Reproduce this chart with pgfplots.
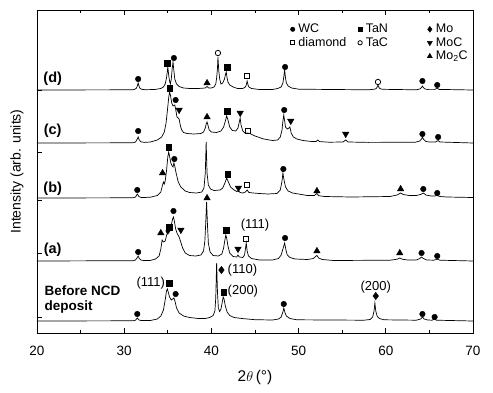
\documentclass[border=0pt]{standalone}
\usepackage{pgfplots}
\pgfplotsset{compat=1.18}
\usepackage{fontspec}
\setmainfont{Liberation Sans}

\pgfplotsset{
  pk/.style={black, line width=0.7pt, no marks, forget plot},
  mWC/.style={only marks, mark=*, mark size=2.8pt, black},
  mTaN/.style={only marks, mark=square*, mark size=2.7pt, black},
  mMo/.style={only marks, mark=diamond*, mark size=3.7pt, black},
  mDia/.style={only marks, mark=square, mark size=2.5pt, black, mark options={line width=0.9pt}},
  mTaC/.style={only marks, mark=o, mark size=2.7pt, black, mark options={line width=0.8pt}},
  mMoC/.style={only marks, mark=triangle*, mark size=3.7pt, black, mark options={rotate=180}},
  mMo2C/.style={only marks, mark=triangle*, mark size=3.7pt, black},
}
\newcommand{\lbl}{\bfseries\fontsize{14.5pt}{16pt}\selectfont}
\newcommand{\hkl}{\fontsize{13pt}{15pt}\selectfont}

\begin{document}
\begin{tikzpicture}[font=\fontsize{13.5pt}{16pt}\selectfont]
\begin{axis}[
  name=ax,
  scale only axis, width=436pt, height=323pt,
  xmin=20, xmax=70, ymin=0, ymax=323,
  xtick={20,30,...,70}, minor xtick={25,35,...,65},
  ytick={16,80,133,181,243}, yticklabels={},
  xtick pos=both, ytick pos=left, tick align=inside,
  major tick length=5pt, minor tick length=3pt,
  tick style={black, line width=0.6pt},
  axis line style={line width=0.8pt},
  /pgf/number format/assume math mode=true,
  x tick label style={yshift=-10pt, font=\fontsize{13.5pt}{16pt}\selectfont},
  xlabel={2$\theta$\,(°)}, ylabel={Intensity (arb. units)},
  every axis x label/.style={at={(axis description cs:0.5,-0.139)}, anchor=center, font=\fontsize{15.5pt}{18pt}\selectfont},
  every axis y label/.style={at={(axis description cs:-0.046,0.5)}, anchor=center, rotate=90, font=\fontsize{14pt}{16pt}\selectfont},
  legend columns=3, legend cell align=left,
  legend image code/.code={\draw[#1,/tikz/every mark/.append style={scale=0.8}] plot coordinates {(0pt,0pt)};},
  legend style={draw=none, fill=none, at={(axis description cs:0.574,0.968)}, anchor=north west,
    font=\fontsize{12.5pt}{14pt}\selectfont, nodes={inner sep=0.5pt, text height=9.5pt, text depth=3pt},
    row sep=0pt, column sep=3pt},
]
% (d)
\addplot[pk] coordinates {
(20,243) (31.0,243.2) (31.2,243.7) (31.4,244.8) (31.5,246.9) (31.6,250) (31.7,246.9) (31.8,244.8) (32.0,243.7) (32.4,243.3)
(33.5,243.5) (34.2,244.5) (34.5,246) (34.7,249) (34.85,255) (34.95,262) (35.0,266) (35.1,258) (35.2,252) (35.3,249)
(35.4,254) (35.5,264) (35.6,271) (35.7,262) (35.8,254) (36.0,249) (36.3,246.5) (36.8,245) (37.5,244.5) (38.5,244.5)
(39.3,245) (39.5,246.5) (39.7,245) (40.0,245) (40.3,246) (40.5,249) (40.6,255) (40.7,265) (40.75,276) (40.85,262)
(40.95,254) (41.1,249) (41.3,250) (41.5,254) (41.6,258) (41.7,261) (41.8,255) (41.9,251) (42.1,248) (42.5,246)
(43.0,244.5) (43.6,244.5) (43.9,246) (44.0,248) (44.1,252) (44.2,248) (44.3,246) (44.6,244.5) (45.5,243.5) (47.0,243.5)
(47.6,244.5) (48.0,246) (48.2,250) (48.3,256) (48.4,263) (48.5,255) (48.6,250) (48.8,247) (49.2,245) (50.0,243.8)
(58.0,243.2) (58.7,243.8) (58.9,244.5) (59.0,245.8) (59.1,248) (59.2,245.8) (59.3,244.5) (59.6,243.7) (63.5,243.2)
(63.9,244) (64.1,245.5) (64.2,247) (64.3,245.5) (64.5,244) (64.9,243.4) (65.6,243.4) (65.9,245) (66.1,243.6) (70,243)
};
% (c)
\addplot[pk] coordinates {
(20,190) (31.0,190.2) (31.3,191) (31.5,194) (31.6,196) (31.7,193.5) (31.9,191.2) (32.3,190.6) (33.0,191) (33.8,193)
(34.3,196) (34.6,201) (34.8,210) (34.95,222) (35.1,235) (35.2,241) (35.3,238) (35.45,230) (35.6,227) (35.8,228)
(35.9,224) (36.05,216) (36.2,215) (36.3,214) (36.45,207) (36.6,203) (36.8,200.5) (37.2,199.5) (38.0,199) (38.8,199.5)
(39.1,201) (39.3,205) (39.4,209) (39.5,211) (39.6,208) (39.75,203) (40.0,201) (40.6,200.5) (41.1,202) (41.4,206)
(41.6,212) (41.75,217) (41.9,213) (42.1,206) (42.4,202.5) (42.8,202) (43.05,205) (43.2,211) (43.3,215) (43.4,208)
(43.6,202) (43.9,199.5) (44.1,200) (44.4,199.5) (45.0,197) (46.0,194) (47.0,192.5) (47.6,193) (47.9,196) (48.1,203)
(48.2,212) (48.3,218) (48.4,212) (48.5,206) (48.7,204) (48.9,205) (49.0,206) (49.15,200) (49.4,196) (49.8,194)
(50.5,192.5) (51.5,191.5) (52.0,191.5) (52.2,193) (52.4,191.4) (53.5,190.8) (55.1,191) (55.4,193) (55.7,191) (58.0,190.6)
(63.4,190.8) (63.9,192) (64.1,194) (64.2,196) (64.35,193.5) (64.6,191.5) (65.0,191) (65.7,191) (66.0,192.5) (66.2,191) (70,190)
};
% (b)
\addplot[pk] coordinates {
(20,135) (31.0,135.2) (31.3,136) (31.5,139) (31.7,136.3) (32.0,135.4) (33.0,135.8) (33.8,137.5) (34.2,141) (34.4,148)
(34.5,151) (34.6,149) (34.7,152) (34.85,162) (35.0,176) (35.1,181) (35.2,177) (35.35,170) (35.5,167) (35.6,166)
(35.7,170) (35.8,167) (35.95,160) (36.2,151) (36.5,146) (37.0,142) (37.5,140.5) (38.3,140) (38.9,141) (39.15,145)
(39.3,160) (39.4,191) (39.5,160) (39.65,148) (39.9,144) (40.3,142.5) (41.0,143) (41.3,145) (41.55,150) (41.75,155)
(41.95,151) (42.2,146) (42.6,143) (42.9,141.5) (43.1,142) (43.3,140.5) (43.6,140) (43.9,141) (44.1,143) (44.3,140.5)
(44.8,140) (45.5,139.5) (46.5,139) (47.5,139.5) (47.9,143) (48.1,152) (48.2,160) (48.35,152) (48.5,146) (48.8,142)
(49.3,140) (50.0,139) (51.0,137.5) (51.8,137.5) (52.1,139.5) (52.3,137.3) (53.0,136.5) (56.0,136) (60.5,136.5) (61.3,138)
(61.7,140) (62.0,138.5) (62.7,137.5) (63.5,137.5) (64.0,138.5) (64.3,140) (64.6,138) (65.2,137) (65.6,137) (65.9,137.5)
(66.2,136.5) (67.0,136) (70,135.5)
};
% (a)
\addplot[pk] coordinates {
(20,72) (31.0,72.3) (31.3,73) (31.5,75.5) (31.6,77) (31.7,75) (31.9,73) (32.3,72.4) (33.0,72.6) (33.6,74)
(34.0,77) (34.2,84) (34.35,93) (34.5,91) (34.7,92) (34.9,99) (35.05,101) (35.2,101) (35.4,108) (35.55,114)
(35.65,116) (35.75,112) (35.9,104) (36.1,99) (36.3,96) (36.45,92) (36.7,85) (37.0,80) (37.5,77.5) (38.2,77)
(38.8,78) (39.1,82) (39.25,92) (39.35,110) (39.45,131) (39.55,108) (39.65,90) (39.85,81) (40.2,77.5) (40.8,77)
(41.2,79) (41.4,85) (41.55,93) (41.65,98) (41.75,95) (41.9,87) (42.1,80) (42.5,76.5) (42.9,76) (43.05,78)
(43.2,76) (43.6,75.5) (43.8,78) (43.9,84) (44.0,90) (44.1,82) (44.25,77) (44.6,74.5) (45.5,73) (47.0,73)
(47.7,74.5) (48.0,78) (48.2,84) (48.4,90) (48.55,83) (48.7,78) (49.0,75.5) (49.6,74) (51.0,73.5) (51.7,74.5)
(52.0,77) (52.1,77.5) (52.3,75) (52.7,73.5) (54.0,72.5) (60.5,72.8) (61.3,73.8) (61.6,75) (61.9,73.8) (62.5,73)
(63.5,73) (63.9,74.5) (64.1,76) (64.3,74.5) (64.7,73) (65.5,72.8) (65.9,73.8) (66.2,72.8) (70,72)
};
% before NCD deposit
\addplot[pk] coordinates {
(20,12) (31.0,12.2) (31.3,12.8) (31.5,15) (31.7,13) (32.0,12.4) (33.0,12.5) (33.8,14) (34.2,17) (34.5,23)
(34.7,33) (34.85,42) (34.95,44) (35.05,41) (35.2,36) (35.4,33) (35.55,34) (35.7,35) (35.85,31) (36.0,25)
(36.3,20) (36.8,17) (37.5,15.5) (38.5,14.5) (39.3,14.5) (39.8,15.5) (40.2,17.5) (40.4,22) (40.5,35) (40.6,70)
(40.7,40) (40.8,25) (40.95,21.5) (41.1,24) (41.25,31) (41.35,36) (41.45,34) (41.6,27) (41.8,21) (42.1,17.5)
(42.6,15.5) (43.5,14.5) (45.0,13.3) (47.0,13) (47.7,14) (48.0,16) (48.2,21) (48.3,25) (48.45,20) (48.6,17)
(49.0,14.5) (49.8,13.2) (57.5,12.8) (58.2,13.5) (58.5,16) (58.65,22) (58.75,30) (58.85,22) (59.0,17) (59.25,14.5)
(59.8,13.2) (63.5,12.8) (64.0,14) (64.2,16) (64.4,14) (64.8,13) (65.3,12.8) (65.6,14) (65.8,12.8) (70,12)
};

\addplot[mWC] coordinates {
(31.6,254) (35.7,275) (48.45,266) (64.2,252) (65.9,248)
(31.6,202) (35.9,233) (48.35,223) (64.2,199) (66.0,196)
(31.5,143) (35.75,174) (48.25,164) (64.3,144) (65.9,140)
(31.6,81) (35.65,122) (48.45,95) (64.1,80) (65.9,77)
(31.5,19) (35.9,39) (48.3,29) (64.2,19) (65.6,16)
};
\addlegendentry{\makebox[56pt][l]{WC}}
\addplot[mTaN] coordinates {
(34.95,270) (41.8,266) (35.25,245) (41.8,222) (35.1,186) (41.85,159)
(35.15,106) (41.7,103) (35.15,50) (41.4,41)
};
\addlegendentry{\makebox[58pt][l]{TaN}}
\addplot[mMo] coordinates {(41.15,63) (58.85,37)};
\addlegendentry{Mo}
\addplot[mDia] coordinates {(44.1,257) (44.2,202) (44.1,148) (44.0,94)};
\addlegendentry{diamond}
\addplot[mTaC] coordinates {(40.75,280) (59.1,251)};
\addlegendentry{TaC}
\addplot[mMoC] coordinates {
(36.3,223) (43.3,220) (49.1,212) (55.4,199) (43.1,145)
(36.5,103) (43.05,84)
};
\addlegendentry{MoC}
\addplot[mMoC, mark size=2.4pt, forget plot] coordinates {(35.0,101)};
\addlegendimage{empty legend}
\addlegendentry{\mbox{}}
\addlegendimage{empty legend}
\addlegendentry{\mbox{}}
\addplot[mMo2C] coordinates {
(39.5,250) (39.5,216) (34.4,160) (52.1,142) (61.7,144)
(34.2,100) (39.5,135) (52.1,82) (61.6,80)
};
\addlegendentry{Mo\textsubscript{2}C}

\node[font=\lbl] at (axis cs:21.8,254) {(d)};
\node[font=\lbl] at (axis cs:21.8,202) {(c)};
\node[font=\lbl] at (axis cs:21.8,144) {(b)};
\node[font=\lbl] at (axis cs:21.8,83) {(a)};
\node[font=\bfseries\fontsize{13.5pt}{15pt}\selectfont, anchor=west, align=left, inner sep=0pt] at (axis cs:20.85,33) {Before NCD\\deposit};
\node[font=\hkl, anchor=east, inner sep=0pt] at (axis cs:34.7,50) {(111)};
\node[font=\hkl, anchor=west, inner sep=0pt] at (axis cs:41.85,63) {(110)};
\node[font=\hkl, anchor=west, inner sep=0pt] at (axis cs:41.85,42) {(200)};
\node[font=\hkl] at (axis cs:58.85,46) {(200)};
\node[font=\hkl] at (axis cs:45.0,108) {(111)};
\end{axis}
\pgfresetboundingbox
\path[use as bounding box] ([shift={(-37pt,-59pt)}]ax.south west) rectangle ([shift={(20pt,10pt)}]ax.north east);
\end{tikzpicture}
\end{document}
